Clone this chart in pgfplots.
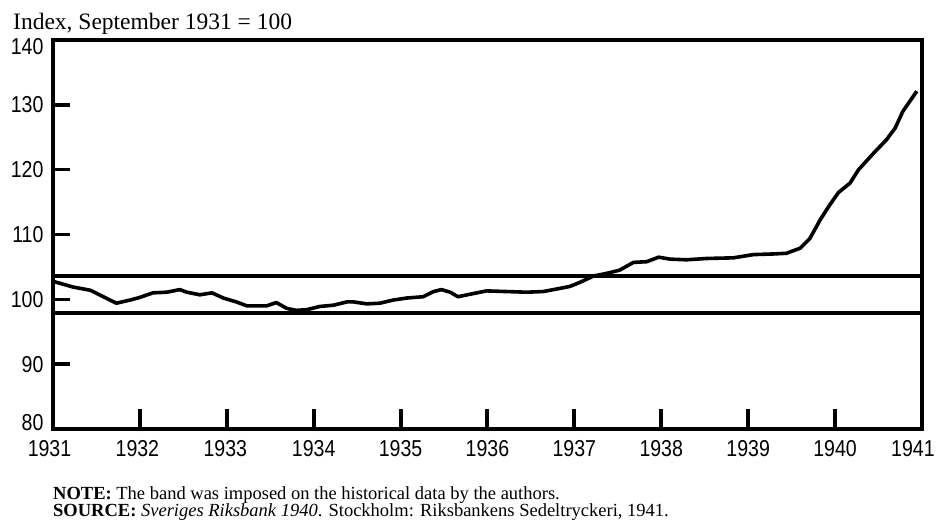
\documentclass[border=0pt]{standalone}
\usepackage{fontspec}
\setmainfont{Liberation Serif}
\newfontfamily\tickfont[FakeStretch=0.85]{Liberation Sans}
\usepackage{pgfplots}
\pgfplotsset{compat=1.18}
\begin{document}
\begin{tikzpicture}
\useasboundingbox (-53pt,-98pt) rectangle (886pt,429pt);
\begin{axis}[
  at={(0pt,0pt)}, anchor=south west,
  scale only axis, width=869pt, height=389pt,
  xmin=1931, xmax=1941, ymin=80, ymax=140,
  xtick={1931,1932,...,1941}, ytick={80,90,...,140},
  xticklabels={1931\kern7pt,1932\kern5pt,1933\kern3pt,1934,1935,1936,1937,1938,1939,1940,1941\kern18pt},
  yticklabels={\raisebox{6pt}[\height][\depth]{80},90,100,110,120,130,\raisebox{-7pt}[\height][\depth]{140}},
  tick align=inside, tick pos=left,
  axis line style={line width=4.2pt, black},
  xtick style={line width=4pt, black, /pgfplots/major tick length=20pt},
  ytick style={line width=3.5pt, black, /pgfplots/major tick length=17pt},
  /pgf/number format/assume math mode=true,
  ticklabel style={font=\tickfont\fontsize{23}{23}\selectfont},
  xticklabel style={yshift=-8pt},
  yticklabel style={xshift=-6pt},
  clip=false,
]
\addplot[line width=3.3pt] coordinates {(1931,103.6) (1941,103.6)};
\addplot[line width=3.3pt] coordinates {(1931,97.9) (1941,97.9)};
\addplot[line width=3.6pt, line join=round] coordinates {
(1931.02,102.7) (1931.23,101.9) (1931.43,101.4) (1931.58,100.4) (1931.73,99.4)
(1931.89,99.9) (1932.00,100.3) (1932.15,101.0) (1932.31,101.1) (1932.46,101.5)
(1932.54,101.1) (1932.69,100.7) (1932.83,101.0) (1932.96,100.2) (1933.11,99.6)
(1933.23,99.0) (1933.46,99.0) (1933.57,99.5) (1933.69,98.6) (1933.80,98.3)
(1933.92,98.4) (1934.07,98.9) (1934.23,99.1) (1934.38,99.6) (1934.46,99.6)
(1934.61,99.3) (1934.76,99.4) (1934.92,99.9) (1935.07,100.2) (1935.26,100.4)
(1935.38,101.2) (1935.47,101.5) (1935.57,101.1) (1935.66,100.4) (1935.84,100.9)
(1935.99,101.3) (1936.22,101.2) (1936.45,101.1) (1936.64,101.2) (1936.80,101.6)
(1936.95,102.0) (1937.06,102.6) (1937.22,103.6) (1937.37,104.0) (1937.52,104.5)
(1937.68,105.7) (1937.83,105.8) (1937.97,106.5) (1938.10,106.2) (1938.29,106.1)
(1938.52,106.3) (1938.83,106.4) (1939.06,106.9) (1939.29,107.0) (1939.44,107.1)
(1939.60,107.9) (1939.71,109.4) (1939.83,112.3) (1939.94,114.6) (1940.04,116.5)
(1940.17,117.9) (1940.27,120.0) (1940.44,122.5) (1940.59,124.6) (1940.69,126.4)
(1940.78,129.0) (1940.94,132.1)
};
\end{axis}
\node[anchor=base west, inner sep=0pt, font=\fontsize{23.5}{23.5}\selectfont] at (-40pt,399pt) {Index, September 1931 = 100};
\node[anchor=base west, inner sep=0pt, font=\fontsize{18.5}{18.5}\selectfont] at (0pt,-70pt) {\textbf{NOTE:} The band was imposed on the historical data by the authors.};
\node[anchor=base west, inner sep=0pt, font=\fontsize{18.5}{18.5}\selectfont] at (0pt,-87pt) {\textbf{SOURCE:} \textit{Sveriges Riksbank 1940}. Stockholm: Riksbankens Sedeltryckeri, 1941.};
\end{tikzpicture}
\end{document}
